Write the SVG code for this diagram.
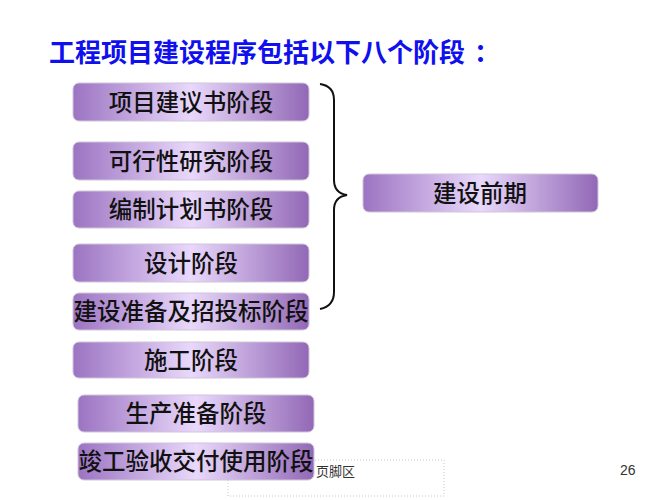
<svg xmlns="http://www.w3.org/2000/svg" width="672" height="500" viewBox="0 0 672 500">
<defs>
<linearGradient id="g" x1="0" y1="0" x2="1" y2="0">
<stop offset="0" stop-color="#9C74C2"/>
<stop offset="0.5" stop-color="#E9D8FB"/>
<stop offset="1" stop-color="#9268B6"/>
</linearGradient>
<style>
.box{fill:url(#g);stroke:#CFC6D8;stroke-width:1}
.t{font-family:"Noto Sans CJK SC","Noto Sans",sans-serif;font-size:23.5px;fill:#111;text-anchor:middle;font-weight:500}
.title{font-family:"Noto Sans CJK SC","Noto Sans",sans-serif;font-size:26px;fill:#1010EE;font-weight:bold}
.foot{font-family:"Noto Sans CJK SC","Liberation Sans",sans-serif;font-size:13px;fill:#333}
</style>
</defs>
<rect width="672" height="500" fill="#fff"/>
<text class="title" x="49" y="62">工程项目建设程序包括以下八个阶段<tspan x="474">：</tspan></text>
<g id="footer">
<rect x="228" y="460" width="216" height="36" fill="none" stroke="#C8C8C8" stroke-width="1" stroke-dasharray="1,2"/>
</g>
<g id="n1"><rect class="box" x="73" y="83" width="236" height="38" rx="6"/><text class="t" x="191" y="111">项目建议书阶段</text></g>
<g id="n2"><rect class="box" x="73" y="142" width="236" height="38" rx="6"/><text class="t" x="191" y="170">可行性研究阶段</text></g>
<g id="n3"><rect class="box" x="73" y="191" width="236" height="37" rx="6"/><text class="t" x="191" y="218">编制计划书阶段</text></g>
<g id="n4"><rect class="box" x="73" y="244" width="236" height="38" rx="6"/><text class="t" x="191" y="272">设计阶段</text></g>
<g id="n5"><rect class="box" x="73" y="293" width="236" height="37" rx="6"/><text class="t" x="191" y="320">建设准备及招投标阶段</text></g>
<g id="n6"><rect class="box" x="73" y="342" width="236" height="36" rx="6"/><text class="t" x="191" y="369">施工阶段</text></g>
<g id="n7"><rect class="box" x="78" y="395" width="236" height="37" rx="6"/><text class="t" x="196" y="422">生产准备阶段</text></g>
<g id="n8"><rect class="box" x="78" y="443" width="236" height="37" rx="6"/><text class="t" x="196" y="470">竣工验收交付使用阶段</text></g>
<g id="n9"><rect class="box" x="363" y="174" width="235" height="38" rx="6"/><text class="t" x="480" y="202">建设前期</text></g>
<g id="connectors">
<path d="M320 84 Q334 86 334 100 L334 180 Q334 193 347 195 Q334 197 334 210 L334 292 Q334 306 320 309" fill="none" stroke="#111" stroke-width="2"/>
</g>
<text class="foot" x="316" y="476">页脚区</text>
<text x="620" y="475" font-family="Liberation Sans,sans-serif" font-size="14" fill="#333">26</text>
</svg>
